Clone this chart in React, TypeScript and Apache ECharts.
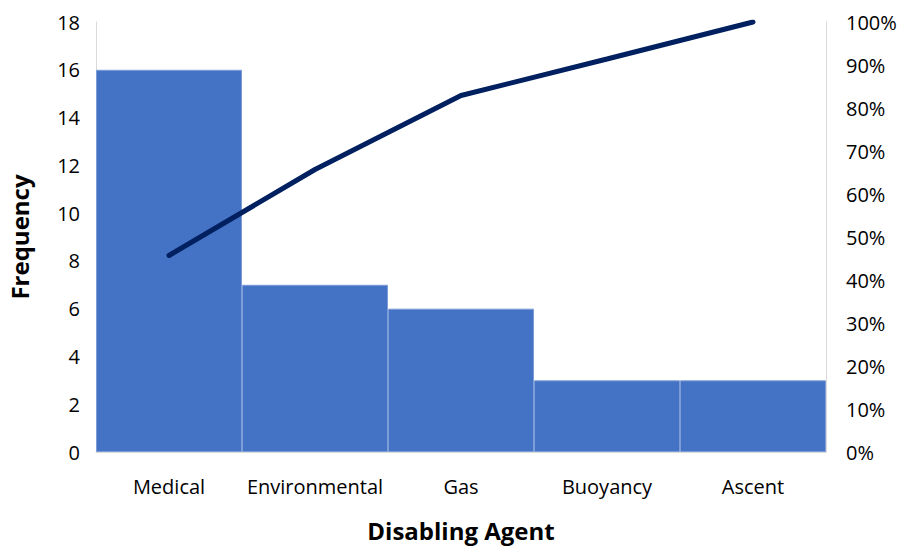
import React, { useEffect, useRef } from "react";
import * as echarts from "echarts";

const categories = ["Medical", "Environmental", "Gas", "Buoyancy", "Ascent"];
const frequency = [16, 7, 6, 3, 3];
const cumulativePct = [0.457, 0.657, 0.829, 0.914, 1.0];
const FONT = "Open Sans";

export default function App() {
  const ref = useRef<HTMLDivElement>(null);
  useEffect(() => {
    if (!ref.current) return;
    const chart = echarts.init(ref.current, undefined, { renderer: "svg" });
    chart.setOption({
      animation: false,
      textStyle: { fontFamily: FONT },
      grid: { left: 96, right: 75, top: 22, bottom: 96, outerBoundsMode: "none", containLabel: false },
      xAxis: {
        type: "category",
        data: categories,
        axisLine: { show: true, lineStyle: { color: "#D9D9D9", width: 1 } },
        axisTick: { show: false },
        axisLabel: { color: "#000", fontSize: 20, fontFamily: FONT, margin: 24, interval: 0 },
        name: "Disabling Agent",
        nameLocation: "middle",
        nameGap: 66,
        nameTextStyle: { color: "#000", fontSize: 24, fontWeight: "bold", fontFamily: FONT },
      },
      yAxis: [
        {
          type: "value",
          min: 0,
          max: 18,
          interval: 2,
          axisLine: { show: true, lineStyle: { color: "#D9D9D9", width: 1 } },
          axisTick: { show: false },
          splitLine: { show: false },
          axisLabel: { color: "#000", fontSize: 20, fontFamily: FONT, margin: 16 },
          name: "Frequency",
          nameLocation: "middle",
          nameGap: 65,
          nameTextStyle: { color: "#000", fontSize: 24, fontWeight: "bold", fontFamily: FONT },
        },
        {
          type: "value",
          min: 0,
          max: 1,
          interval: 0.1,
          position: "right",
          axisLine: { show: true, lineStyle: { color: "#D9D9D9", width: 1 } },
          axisTick: { show: false },
          splitLine: { show: false },
          axisLabel: {
            color: "#000",
            fontSize: 20,
            fontFamily: FONT,
            margin: 20,
            formatter: (v: number) => Math.round(v * 100) + "%",
          },
        },
      ],
      series: [
        {
          type: "bar",
          data: frequency,
          barCategoryGap: "0%",
          itemStyle: { color: "#4472C4", borderColor: "#7D9DD8", borderWidth: 1 },
        },
        {
          type: "line",
          yAxisIndex: 1,
          data: cumulativePct,
          symbol: "none",
          lineStyle: { color: "#002060", width: 5, cap: "round" },
        },
      ],
    });
    return () => chart.dispose();
  }, []);
  return (
    <div
      ref={ref}
      style={{ position: "absolute", left: 0, top: 0, width: 901, height: 548 }}
    />
  );
}
